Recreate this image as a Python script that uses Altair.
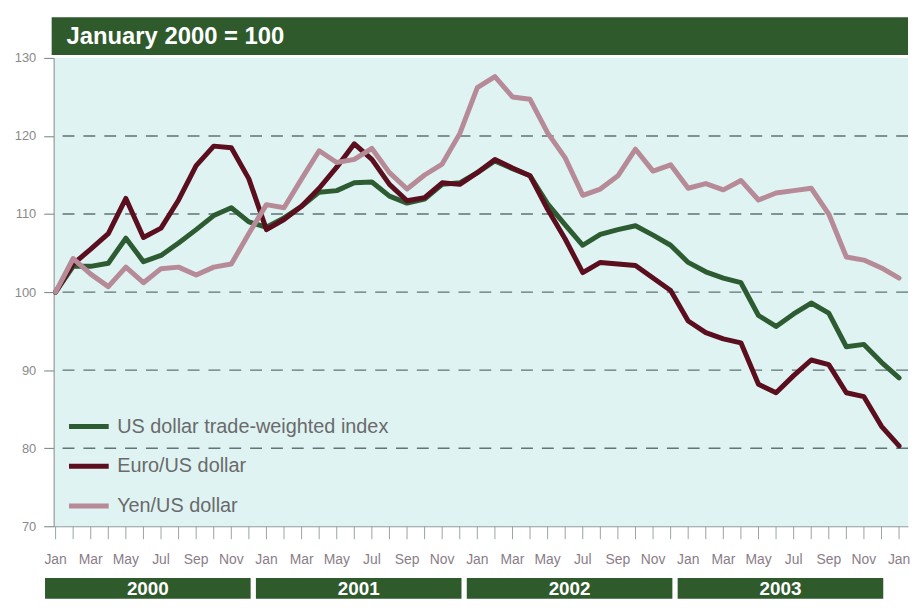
import altair as alt
import pandas as pd

# ---------------- data ----------------
series_names = ["US dollar trade-weighted index", "Euro/US dollar", "Yen/US dollar"]
month_labels = ["Jan", "Feb", "Mar", "Apr", "May", "Jun", "Jul", "Aug", "Sep", "Oct", "Nov", "Dec"]
years = ["2000", "2001", "2002", "2003"]
header_text = "January 2000 = 100"
y_ticks = [70, 80, 90, 100, 110, 120, 130]
grid_values = [80, 90, 100, 110, 120]

# monthly, Jan 2000 .. Jan 2004
usd = [100.0, 103.3, 103.3, 103.7, 106.9, 103.9, 104.7, 106.3, 108.0, 109.8, 110.8, 109.0,
       108.3, 109.5, 111.0, 112.8, 113.0, 114.0, 114.1, 112.3, 111.4, 111.9, 113.8, 114.0,
       115.3, 116.8, 115.8, 114.9, 111.3, 108.6, 106.0, 107.4, 108.0, 108.5, 107.3, 106.0,
       103.8, 102.6, 101.8, 101.2, 97.0, 95.6, 97.2, 98.6, 97.3, 93.0, 93.3, 91.0,
       89.0]
eur = [100.0, 103.6, 105.5, 107.5, 112.0, 107.0, 108.2, 111.8, 116.2, 118.7, 118.5, 114.5,
       108.0, 109.3, 111.0, 113.3, 116.0, 119.0, 117.0, 113.8, 111.7, 112.1, 114.0, 113.8,
       115.3, 117.0, 115.9, 114.9, 110.6, 106.8, 102.5, 103.8, 103.6, 103.4, 101.8, 100.2,
       96.3, 94.8, 94.0, 93.5, 88.2, 87.1, 89.3, 91.3, 90.7, 87.1, 86.6, 82.8,
       80.3]
yen = [100.0, 104.3, 102.3, 100.7, 103.2, 101.2, 103.0, 103.2, 102.2, 103.2, 103.6, 107.5,
       111.2, 110.8, 114.5, 118.1, 116.6, 117.0, 118.4, 115.3, 113.2, 115.0, 116.4, 120.3,
       126.2, 127.6, 125.0, 124.7, 120.4, 117.2, 112.4, 113.2, 114.9, 118.3, 115.5, 116.3,
       113.3, 113.9, 113.1, 114.3, 111.8, 112.7, 113.0, 113.3, 110.0, 104.5, 104.1, 103.1,
       101.8]

colors = ["#2d5c33", "#5a0e1e", "#b68a97"]
band_green = "#2e5a2c"
FONT = "Liberation Sans"

rows = []
for name, vals in zip(series_names, [usd, eur, yen]):
    for i, v in enumerate(vals):
        rows.append({"series": name, "month": i, "value": v})
df = pd.DataFrame(rows)

n_months = len(usd)
df_grid = pd.DataFrame({"value": grid_values})
df_ticks = pd.DataFrame({"month": list(range(n_months))})
df_mlabels = pd.DataFrame({
    "month": list(range(0, n_months, 2)),
    "label": [month_labels[m % 12] for m in range(0, n_months, 2)],
})
df_years = pd.DataFrame({
    "year": years,
    "start": [12 * i - 0.6 for i in range(len(years))],
    "end": [12 * i + 11.1 for i in range(len(years))],
    "mid": [12 * i + 5.25 for i in range(len(years))],
})
df_one = pd.DataFrame({"k": [0]})

W, H = 861, 472
TICK = 13
x_scale = alt.Scale(domain=[-0.11, 48.51], nice=False, zero=False)
y_scale = alt.Scale(domain=[70, 130], nice=False, zero=False)

grid = alt.Chart(df_grid).mark_rule(
    strokeDash=[12, 9], color="#5f7576", strokeWidth=1.4
).encode(y=alt.Y("value:Q", scale=y_scale, title=None))

month_ticks = alt.Chart(df_ticks).mark_rule(color="#9aa3a3", strokeWidth=1).encode(
    x=alt.X("month:Q", scale=x_scale, title=None),
    y=alt.value(H),
    y2=alt.value(H + TICK),
)

month_text = alt.Chart(df_mlabels).mark_text(
    fontSize=14, font=FONT, color="#8a7d88", baseline="middle", align="center"
).encode(
    x=alt.X("month:Q", scale=x_scale, title=None),
    y=alt.value(H + 34),
    text="label:N",
)

lines = alt.Chart(df).mark_line(strokeWidth=5, strokeJoin="round", strokeCap="round").encode(
    x=alt.X("month:Q", scale=x_scale, title=None,
            axis=alt.Axis(labels=False, ticks=False, domainColor="#8c9a9a", grid=False)),
    y=alt.Y("value:Q", scale=y_scale, title=None,
            axis=alt.Axis(values=y_ticks, tickSize=10, tickColor="#6f8282",
                          domainColor="#8a8a8a", labelColor="#8a8a8a", labelFontSize=13,
                          labelFont=FONT, labelPadding=8, labelFlush=False, grid=False)),
    color=alt.Color("series:N", sort=series_names,
                    scale=alt.Scale(domain=series_names, range=colors),
                    legend=alt.Legend(orient="none", legendX=13, legendY=349, title=None,
                                      symbolType="stroke", symbolSize=1600,
                                      symbolStrokeWidth=5, labelFontSize=20,
                                      labelColor="#6a6a6a", labelFont=FONT, padding=0,
                                      rowPadding=7, labelOffset=6, labelLimit=0,
                                      direction="vertical")),
)

year_bars = alt.Chart(df_years).mark_rect(color=band_green).encode(
    x=alt.X("start:Q", scale=x_scale, title=None),
    x2="end:Q",
    y=alt.value(524),
    y2=alt.value(545),
)
year_text = alt.Chart(df_years).mark_text(
    color="white", fontSize=19, fontWeight="bold", font=FONT, baseline="middle"
).encode(
    x=alt.X("mid:Q", scale=x_scale, title=None),
    y=alt.value(535),
    text="year:N",
)

header = alt.Chart(df_one).mark_rect(color=band_green).encode(
    x=alt.value(-2), x2=alt.value(W), y=alt.value(-41), y2=alt.value(-3)
)
header_label = alt.Chart(df_one).mark_text(
    color="white", fontSize=24, fontWeight="bold", font=FONT, align="left", baseline="middle"
).encode(x=alt.value(13), y=alt.value(-21), text=alt.value(header_text))

chart = alt.layer(grid, month_ticks, lines, month_text, year_bars, year_text,
                  header, header_label).properties(
    width=W, height=H,
    autosize=alt.AutoSizeParams(type="none"),
    padding={"left": 46, "top": 48, "right": 4, "bottom": 72},
    background="white",
).configure_view(fill="#dff3f3", stroke=None)

chart.save("out.html", embed_options={"renderer": "svg", "actions": False})
